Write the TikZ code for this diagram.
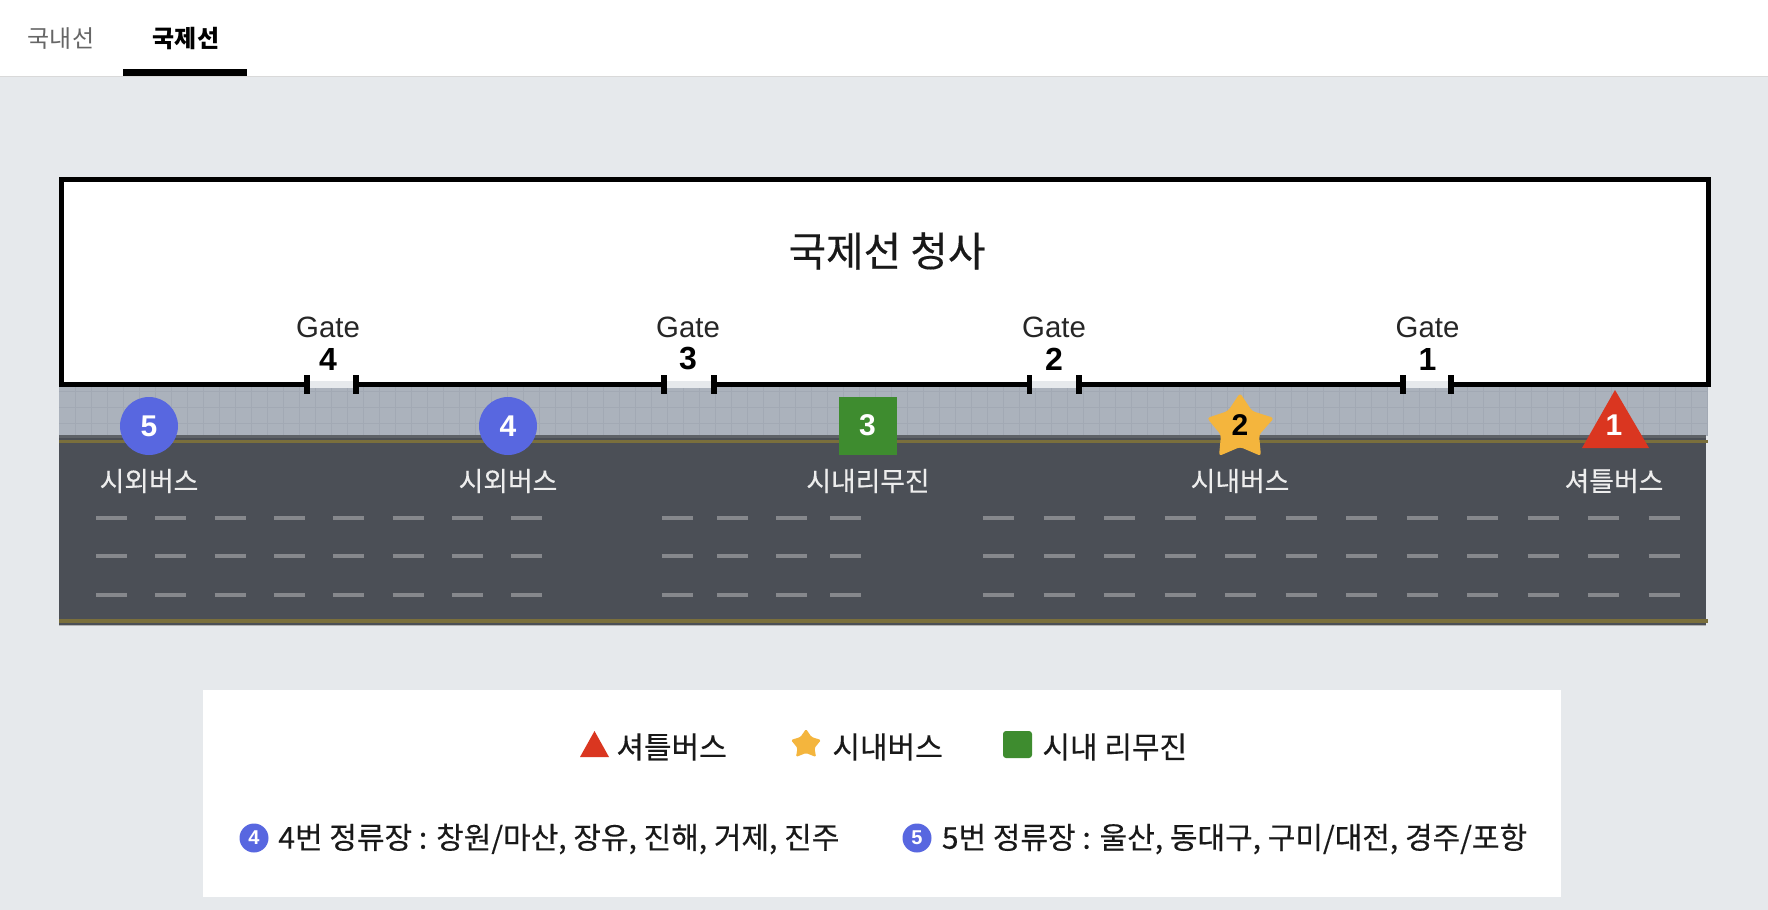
\documentclass[tikz,border=0pt]{standalone}
\usepackage{fontspec}
\usetikzlibrary{shapes.geometric}
\setmainfont{Noto Sans CJK KR}
\newfontfamily\medf[FakeBold=0.35]{Noto Sans CJK KR}
\newfontfamily\latinf{Liberation Sans}
\definecolor{bgc}{HTML}{E6E9EC}
\definecolor{pave}{HTML}{ABB2BC}
\definecolor{gridc}{HTML}{A2A9B4}
\definecolor{road}{HTML}{4B4F56}
\definecolor{roadedge}{HTML}{5E6267}
\definecolor{ylw}{HTML}{7A6F3C}
\definecolor{dashc}{HTML}{86888C}
\definecolor{bluec}{HTML}{5867E0}
\definecolor{greenc}{HTML}{3E8C2F}
\definecolor{starc}{HTML}{F4B53D}
\definecolor{redc}{HTML}{DA3620}
\newcommand{\fsz}[1]{\fontsize{#1}{#1}\selectfont}
\tikzset{
  x=0.5pt,y=-0.5pt,
  tabtxt/.style={inner sep=0,font=\fsz{12}},
  gatetxt/.style={inner sep=0,text=black!85,font=\latinf\fsz{14.7}},
  gatenum/.style={inner sep=0,font=\latinf\bfseries\fsz{16}},
  stoplabel/.style={inner sep=0,text=white!93!black,font=\medf\fsz{13.4}},
  marknum/.style={inner sep=0,font=\latinf\bfseries\fsz{15},text=white},
  legtxt/.style={inner sep=0,anchor=west,text=black!90,font=\medf\fsz{15}},
  laneline/.style={draw=dashc,line width=1.8pt},
  gatetick/.style={draw=black,line width=2.6pt},
  bluedot/.style={circle,fill=bluec,inner sep=0,minimum size=29pt},
}
\begin{document}
\begin{tikzpicture}
\useasboundingbox (0,0) rectangle (1768,910);
\fill[bgc] (0,0) rectangle (1768,910);
% header
\fill[white] (0,0) rectangle (1768,76);
\draw[black!15,line width=0.6pt] (0,76.5) -- (1768,76.5);
\fill[black] (123,69) rectangle (247,75.5);
\node[tabtxt,text=black!60] (tabdom) at (61,39) {국내선};
\node[tabtxt,text=black,font=\bfseries\fsz{12}] (tabint) at (186,39) {국제선};
% pavement
\fill[pave] (59,386) rectangle (1708,436);
\begin{scope}
\clip (59,386) rectangle (1708,436);
\foreach \gx in {75,91,...,1708} \draw[gridc,line width=0.35pt] (\gx,386) -- (\gx,436);
\foreach \gy in {391,407,423} \draw[gridc,line width=0.35pt] (59,\gy) -- (1708,\gy);
\end{scope}
% road
\fill[road] (59,435) rectangle (1706,625);
\fill[roadedge] (59,435) rectangle (1706,438);
\fill[ylw] (59,439.5) rectangle (1708,443);
\fill[ylw] (59,618.5) rectangle (1708,622.5);
\fill[black!30] (59,624.5) rectangle (1706,626);
\foreach \ry in {517.7,556,595}{
  \foreach \k in {0,...,7} \draw[laneline] ({96+59.3*\k},\ry) -- ++(31,0);
  \foreach \sx in {662,717,776,830} \draw[laneline] (\sx,\ry) -- ++(31,0);
  \foreach \k in {0,...,11} \draw[laneline] ({983+60.5*\k},\ry) -- ++(31,0);
}
% terminal
\fill[white] (59,177) rectangle (1710,387);
\draw[black,line width=2.5pt,miter limit=10] (61,179.5) rectangle (1708.5,384.5);
\foreach \ga/\gb in {307/356,664/714,1029.5/1079,1403/1451}{
  \fill[bgc] (\ga,381) rectangle (\gb,388);
  \draw[gatetick] (\ga,375) -- (\ga,394);
  \draw[gatetick] (\gb,375) -- (\gb,394);
}
\node[inner sep=0,font=\medf\fsz{20.4},text=black!90] (title) at (887,251) {국제선 청사};
\node[gatetxt] (g4) at (328,327) {Gate};
\node[gatenum] (n4) at (328,359) {4};
\node[gatetxt] (g3) at (688,327) {Gate};
\node[gatenum] (n3) at (688,359) {3};
\node[gatetxt] (g2) at (1054,327) {Gate};
\node[gatenum] (n2) at (1054,359) {2};
\node[gatetxt] (g1) at (1427.5,327) {Gate};
\node[gatenum] (n1) at (1427.5,359) {1};
% stops
\node[bluedot,marknum] (s5) at (149,426) {5};
\node[bluedot,marknum] (s4) at (508,426) {4};
\node[fill=greenc,minimum size=29pt,marknum] (s3) at (867.5,425.5) {3};
\fill[starc,rounded corners=1.5pt] (1240,393) -- (1252,411) -- (1274,418) -- (1259,435) -- (1261,456) -- (1240,447) -- (1219,456) -- (1221,435) -- (1207,418) -- (1228,411) -- cycle;
\node[marknum,text=black] (s2) at (1240,425) {2};
\fill[redc] (1615,390) -- (1649,448) -- (1582,448) -- cycle;
\node[marknum] (s1) at (1614,425) {1};
\node[stoplabel] (l5) at (149,481) {시외버스};
\node[stoplabel] (l4) at (508,481) {시외버스};
\node[stoplabel] (l3) at (868,481) {시내리무진};
\node[stoplabel] (l2) at (1240,481) {시내버스};
\node[stoplabel] (l1) at (1614,481) {셔틀버스};
% legend
\fill[white] (203,690) rectangle (1561,897);
\fill[redc] (594.5,731) -- (609,757) -- (580,757) -- cycle;
\node[legtxt] (lt1) at (616,747) {셔틀버스};
\fill[starc,rounded corners=0.7pt] (806,729) -- (811.5,737) -- (821,740) -- (814.5,748) -- (816,757) -- (806,753) -- (796,757) -- (797.5,748) -- (791,740) -- (800.5,737) -- cycle;
\node[legtxt] (lt2) at (832,747) {시내버스};
\fill[greenc,rounded corners=1.5pt] (1003,731) rectangle (1032,758);
\node[legtxt] (lt3) at (1042,747) {시내 리무진};
\node[circle,fill=bluec,inner sep=0,minimum size=14.5pt,font=\latinf\bfseries\fsz{10},text=white] (ld4) at (254,838) {4};
\node[legtxt] (lt4) at (278,839) {4번 정류장 : 창원/마산, 장유, 진해, 거제, 진주};
\node[circle,fill=bluec,inner sep=0,minimum size=14.5pt,font=\latinf\bfseries\fsz{10},text=white] (ld5) at (917,838) {5};
\node[legtxt] (lt5) at (941.5,839) {5번 정류장 : 울산, 동대구, 구미/대전, 경주/포항};
\end{tikzpicture}
\end{document}
